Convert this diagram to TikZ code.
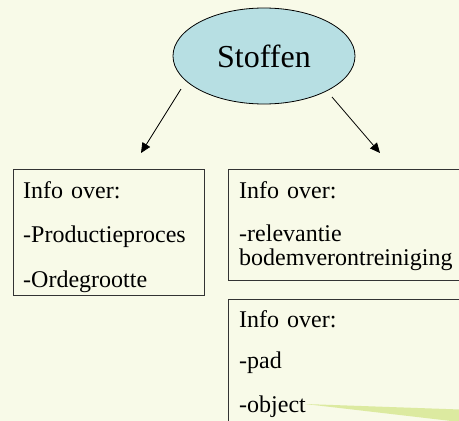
\documentclass[tikz,border=0pt]{standalone}
\usepackage{fontspec}
\setmainfont{Liberation Serif}
\usetikzlibrary{arrows.meta,shapes.geometric}

\definecolor{slidebg}{RGB}{248,250,232}
\definecolor{topicblue}{RGB}{183,223,227}
\definecolor{swoosh}{RGB}{220,234,160}

\begin{document}
\begin{tikzpicture}[x=1pt,y=-1pt,
        topic/.style={draw,ellipse,fill=topicblue,line width=0.8pt,minimum width=182pt,minimum height=96pt,inner sep=0pt,font=\fontsize{32}{32}\selectfont},
        infobox/.style={draw=black!80,line width=0.8pt,anchor=north west,inner sep=0pt},
        infotext/.style={anchor=base west,align=left,text width=230pt,inner sep=0pt,font=\fontsize{24}{24}\selectfont},
        arrow/.style={-{Triangle[length=10pt,width=9pt]},line width=0.8pt},
        ]
    \useasboundingbox (0,0) rectangle (459,421);
    \clip (0,0) rectangle (459,421);
    \fill [slidebg] (0,0) rectangle (459,421);

    \node (stoffen) [topic] at (264,56) {Stoffen};

    % arrows from the topic
    \coordinate (la0) at (181,89);
    \coordinate (la1) at (141,153);
    \coordinate (ra0) at (332,97);
    \coordinate (ra1) at (380,153);
    \draw [arrow] (la0) -- (la1);
    \draw [arrow] (ra0) -- (ra1);

    % boxes
    \node (box1) [infobox, minimum width=191pt, minimum height=126pt] at (13,169) {};
    \node (box2) [infobox, minimum width=260pt, minimum height=111pt] at (228,169) {};
    \node (box3) [infobox, minimum width=260pt, minimum height=140pt] at (228,299) {};

    \node (text1) [infotext] at (23,198) {Info over:\\[20.5pt]-Productieproces\\[20.5pt]-Ordegrootte};
    \node (text2) [infotext] at (239,198) {Info over:\\[19pt]-relevantie\\bodemverontreiniging};
    \node (text3) [infotext] at (239,327) {Info over:\\[17pt]-pad\\[20pt]-object};

    \fill [swoosh] (305,404) -- (460,409.5) -- (460,422) -- cycle;
\end{tikzpicture}
\end{document}
